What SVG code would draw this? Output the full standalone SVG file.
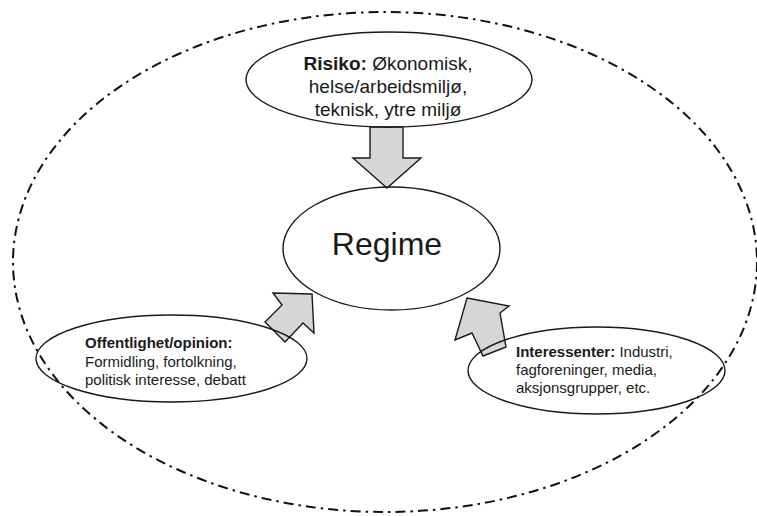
<svg xmlns="http://www.w3.org/2000/svg" width="757" height="516" viewBox="0 0 757 516">
<style>
.bg{fill:#ffffff}
.outer{fill:none;stroke:#111;stroke-width:2;stroke-dasharray:10 5 2.5 5}
.node{fill:none;stroke:#1a1a1a;stroke-width:1.4}
.arrow{fill:#d6d6d6;stroke:#1a1a1a;stroke-width:1.4;stroke-linejoin:miter}
text{font-family:"Liberation Sans",Arial,sans-serif;fill:#1a1a1a}
.t19{font-size:19px}
.t15{font-size:15px}
.b{font-weight:bold}
.big{font-size:32px}
</style>
<rect class="bg" x="0" y="0" width="757" height="516"/>
<g id="boundary">
<ellipse class="outer" cx="385" cy="262" rx="372" ry="250"/>
</g>
<g id="connectors">
<polygon class="arrow" points="370,127 403,127 403,158 421,158 387,188 353,158 370,158"/>
<polygon class="arrow" points="273,293 312,294 314,333 303,323 285,342 265,322 282,305"/>
<polygon class="arrow" points="467,298 509,306 500,313 506,347 483,356 472,333 455,340"/>
</g>
<g id="risiko">
<ellipse class="node" cx="389" cy="79.5" rx="143" ry="47.5"/>
<text class="t19" x="388" y="70" text-anchor="middle"><tspan class="b">Risiko:</tspan> Økonomisk,</text>
<text class="t19" x="388" y="93" text-anchor="middle">helse/arbeidsmiljø,</text>
<text class="t19" x="388" y="116" text-anchor="middle">teknisk, ytre miljø</text>
</g>
<g id="regime">
<ellipse class="node" cx="391.5" cy="248.5" rx="108.5" ry="61.5"/>
<text class="big" x="387" y="255" text-anchor="middle">Regime</text>
</g>
<g id="offentlighet">
<ellipse class="node" cx="171.5" cy="358.5" rx="135.5" ry="43.5"/>
<text class="t15 b" x="85" y="348">Offentlighet/opinion:</text>
<text class="t15" x="85" y="367">Formidling, fortolkning,</text>
<text class="t15" x="85" y="385">politisk interesse, debatt</text>
</g>
<g id="interessenter">
<ellipse class="node" cx="596.5" cy="370.5" rx="128.5" ry="43.5"/>
<text class="t15" x="516" y="357"><tspan class="b">Interessenter:</tspan> Industri,</text>
<text class="t15" x="516" y="375">fagforeninger, media,</text>
<text class="t15" x="516" y="393">aksjonsgrupper, etc.</text>
</g>
</svg>
